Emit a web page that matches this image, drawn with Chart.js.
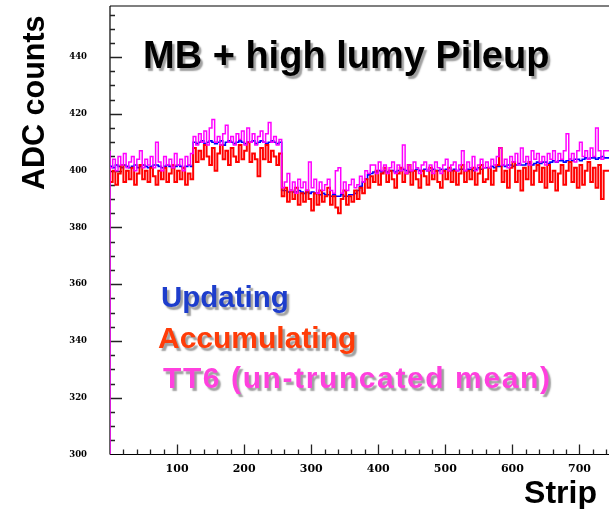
<!DOCTYPE html>
<html>
<head>
<meta charset="utf-8">
<script src="https://cdn.jsdelivr.net/npm/chart.js@4.4.1/dist/chart.umd.min.js"></script>
<style>
  html, body { margin: 0; padding: 0; background: #fff; }
  #wrap { width: 609px; height: 509px; }
</style>
</head>
<body>
<div id="wrap"><canvas id="c" width="609" height="509"></canvas></div>
<script>
// ---- data (ADC counts, one value per group of 4 strips) ----
const stripsPerBin = 4;
const lastStrip = 744;

const tt6 = [
  407,401,404,400,405,402,406,401,403,405, 400,404,407,401,404,402,405,401,410,403,
  400,405,402,404,401,406,402,404,400,405, 402,406,
  412,409,413,410,414,409,415,418,410,412, 409,413,416,410,412,409,413,411,414,409,
  415,410,413,409,412,414,410,413,417,410, 412,409,411,
  394,396,399,393,396,392,397,394,396, 393,403,394,397,392,396,393,395,397,393,
  392,400,401,392,396,393,395,397,394,
  395,398,396,400,399,402,
  402,399,403,400,402,399,401,403,399,402, 400,409,399,402,400,403,401,399,402,403,
  400,402,399,403,401,399,402,404,400,402, 403,400,402,407,400,403,401,405,400,402,
  404,401,
  403,401,404,402,405,408,402,404,401,405, 403,406,402,408,403,405,402,407,404,406,
  403,405,402,406,404,407,403,406,404,407, 413,404,406,403,407,410,405,407,404,408,
  405,415,407,404,407
];

const updating = [
  402,401.5,401,402,401.5,401,402,401.5,401,401.5, 402,401,401.5,402,401.5,401,401.5,402,402,401.5,
  401,401.5,402,401.5,401,401.5,402,401.5,401,401.5, 402,401.5,
  410,409.5,410,410.5,409.5,410,410.5,410,409.5,410, 410.5,409,410,410.5,410,409.5,410,410.5,410,409.5,
  410,410,410.5,409.5,410,410.5,410,409.5,410,410.5, 410,409.5,410,
  393,393,392.5,393,392.5,392.5,393,392.5,392, 392.5,392,392.5,392,392,391.5,392,391.5,391.5,391,
  391.5,391,391,391.5,391,391,391.5,391.5,392,
  393,394.5,396,397,398.5,399,
  399.5,399.5,400,399.5,400,399.5,400,400,399.5,400, 400,400.5,400,399.5,400,400,400.5,400,400,400.5,
  400,400,400.5,400,400,400.5,400,400.5,400,400, 400.5,400,400.5,400.5,400,400.5,400.5,400,400.5,401,
  400.5,401,
  401,401,401.5,401,401.5,401.5,402,401.5,402,402, 401.5,402,402.5,402,402,402.5,402.5,402,402.5,403,
  402.5,403,403,402.5,403,403.5,403,403.5,403.5,403, 403.5,404,403.5,404,404,403.5,404,404.5,404,404.5,
  404.5,404,404.5,405,404.5
];

const accumulating = [
  401,396,400,395,399,402,396,400,397,401, 395,399,402,397,400,396,401,398,395,400,
  397,401,396,399,402,396,400,397,401,395, 399,397,
  408,403,407,404,409,405,402,408,400,406, 409,404,407,402,408,405,403,409,404,407,
  410,403,406,404,398,408,404,409,403,407, 405,402,406,
  391,394,389,393,390,394,388,392,389, 393,390,386,392,388,393,389,391,394,388,
  391,387,385,390,393,388,391,389,393,
  390,394,392,397,394,398,
  396,400,395,399,401,396,400,397,394,399, 401,396,399,402,395,400,397,394,400,398,
  395,401,397,400,396,394,400,397,401,396, 400,395,399,402,396,400,397,401,395,399,
  402,396,
  397,401,395,400,402,408,396,400,394,401, 403,396,400,393,401,397,403,395,400,402,
  396,401,394,402,396,400,393,399,402,395, 400,403,396,401,394,402,395,400,403,396,
  401,394,402,390,400
];

const xTicks = [100, 200, 300, 400, 500, 600, 700];
const yTicks = [300, 320, 340, 360, 380, 400, 420, 440];
const yMin = 300, yMax = 458;

const titleText = "MB + high lumy Pileup";
const legendTexts = ["Updating", "Accumulating", "TT6 (un-truncated mean)"];

// ---- build histogram step data ----
function hist(vals, fromBottom) {
  const pts = [];
  if (fromBottom) pts.push({x: 0, y: yMin});
  vals.forEach((v, i) => pts.push({x: i * stripsPerBin, y: v}));
  pts.push({x: lastStrip, y: vals[vals.length - 1]});
  return pts;
}

const framePlugin = {
  id: 'frame',
  beforeDatasetsDraw(chart) {
    const {ctx, chartArea: a, scales: {x, y}} = chart;
    ctx.save();
    ctx.strokeStyle = '#000';
    ctx.lineWidth = 1.2;
    ctx.beginPath();
    ctx.moveTo(a.left, a.top); ctx.lineTo(a.right, a.top);
    ctx.moveTo(a.left, a.top); ctx.lineTo(a.left, a.bottom);
    ctx.moveTo(a.left, a.bottom); ctx.lineTo(a.right, a.bottom);
    ctx.stroke();
    ctx.strokeStyle = '#222';
    ctx.lineWidth = 1.3;
    ctx.beginPath();
    for (let s = 20; s <= x.max; s += 20) {
      const px = Math.round(x.getPixelForValue(s)) + 0.5;
      const len = (s % 100 === 0) ? 10 : 5;
      ctx.moveTo(px, a.bottom); ctx.lineTo(px, a.bottom - len);
    }
    for (let v = yMin + 5; v <= yMax; v += 5) {
      const py = Math.round(y.getPixelForValue(v)) + 0.5;
      const len = (v % 20 === 0) ? 12 : 5;
      ctx.moveTo(a.left, py); ctx.lineTo(a.left + len, py);
    }
    ctx.stroke();
    ctx.restore();
  },
  afterDraw(chart) {
    const ctx = chart.ctx;
    ctx.save();
    ctx.textBaseline = 'alphabetic';
    ctx.textAlign = 'left';
    ctx.shadowColor = 'rgba(0,0,0,0.38)';
    ctx.shadowOffsetX = 2.5; ctx.shadowOffsetY = 2.5; ctx.shadowBlur = 1.5;
    ctx.font = 'bold 38px "Liberation Sans", Arial, sans-serif';
    ctx.fillStyle = '#000';
    ctx.fillText(titleText, 143, 68);
    ctx.font = 'bold 29.5px "Liberation Sans", Arial, sans-serif';
    ctx.fillStyle = '#1d3dcc';
    ctx.fillText(legendTexts[0], 161, 307);
    ctx.font = 'bold 30px "Liberation Sans", Arial, sans-serif';
    ctx.fillStyle = '#ff3c08';
    ctx.fillText(legendTexts[1], 158, 348);
    ctx.fillStyle = '#ff40de';
    ctx.letterSpacing = '1.6px';
    ctx.fillText(legendTexts[2], 163, 388);
    ctx.letterSpacing = '0px';
    ctx.shadowColor = 'rgba(0,0,0,0)';
    ctx.fillStyle = '#000';
    ctx.font = 'bold 32px "Liberation Sans", Arial, sans-serif';
    ctx.textAlign = 'right';
    ctx.fillText('Strip', 597, 503);
    ctx.translate(43.5, 190);
    ctx.rotate(-Math.PI / 2);
    ctx.textAlign = 'left';
    ctx.font = 'bold 30.5px "Liberation Sans", Arial, sans-serif';
    ctx.fillText('ADC counts', 0, 0);
    ctx.restore();
  }
};

const hiddenTickGrid = (len) => ({
  display: true, drawOnChartArea: false, drawTicks: true,
  tickLength: len, color: 'rgba(0,0,0,0)'
});

new Chart(document.getElementById('c'), {
  type: 'line',
  data: {
    datasets: [
      { label: legendTexts[2], data: hist(tt6, true), borderColor: '#ff00ff', borderWidth: 1.5, order: 0 },
      { label: legendTexts[1], data: hist(accumulating, false), borderColor: '#ff0000', borderWidth: 2, order: 1 },
      { label: legendTexts[0], data: hist(updating, false), borderColor: '#0000ff', borderWidth: 1.6, order: 2 }
    ]
  },
  options: {
    responsive: false,
    animation: false,
    devicePixelRatio: 1,
    events: [],
    elements: { point: { radius: 0 }, line: { stepped: 'after', tension: 0, fill: false } },
    layout: { padding: { left: 0, right: 0, top: 6, bottom: 0 } },
    plugins: { legend: { display: false }, tooltip: { enabled: false }, title: { display: false } },
    scales: {
      x: {
        type: 'linear', min: 0, max: lastStrip,
        grid: hiddenTickGrid(8),
        border: { display: false },
        afterFit(s) { s.height = 54.5; },
        afterBuildTicks(s) { s.ticks = xTicks.map(v => ({value: v})); },
        ticks: {
          includeBounds: false, maxRotation: 0, autoSkip: false, padding: 0,
          color: '#000',
          font: { family: '"DejaVu Serif", "Liberation Serif", serif', weight: 'bold', size: 11 }
        }
      },
      y: {
        type: 'linear', min: yMin, max: yMax,
        grid: hiddenTickGrid(23),
        border: { display: false },
        afterFit(s) { s.width = 110; },
        afterBuildTicks(s) { s.ticks = yTicks.map(v => ({value: v})); },
        ticks: {
          includeBounds: false, autoSkip: false, padding: 0,
          color: '#000',
          font: { family: '"DejaVu Serif", "Liberation Serif", serif', weight: 'bold', size: 8.5 }
        }
      }
    }
  },
  plugins: [framePlugin]
});
</script>
</body>
</html>
